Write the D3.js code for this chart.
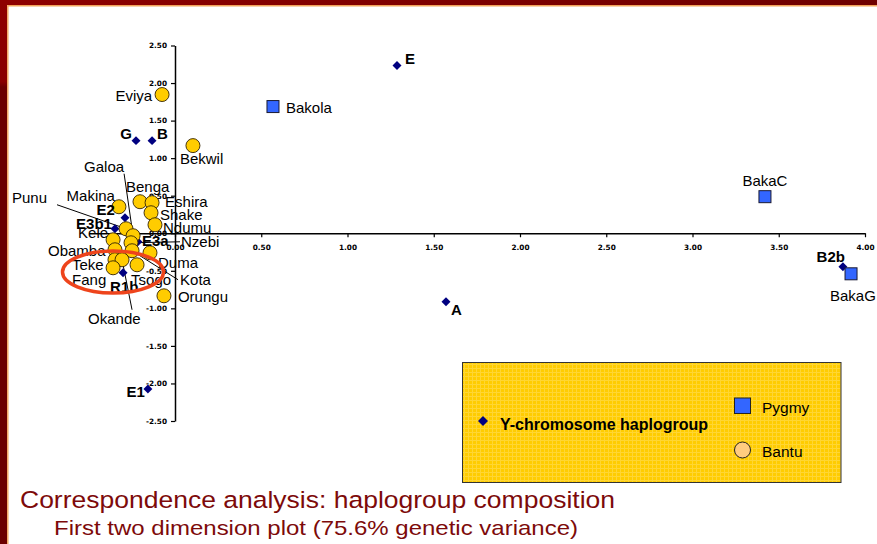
<!DOCTYPE html>
<html>
<head>
<meta charset="utf-8">
<script src="https://cdn.jsdelivr.net/npm/d3@7"></script>
<style>
  body { margin: 0; background: #fff; }
  svg { display: block; }
</style>
</head>
<body>
<div id="vis"></div>
<script>
// Y-chromosome haplogroups (column points)
var haploNames = ["E", "G", "B", "A", "E1", "B2b", "E2", "E3b1", "E3a", "R1b"];
var haploX = [1.287, -0.226, -0.133, 1.571, -0.157, 3.872, -0.290, -0.348, -0.215, -0.301];
var haploY = [2.233, 1.233, 1.233, -0.913, -2.073, -0.447, 0.207, 0.060, -0.113, -0.527];

// Pygmy populations
var pygmyNames = ["Bakola", "BakaC", "BakaG"];
var pygmyX = [0.568, 3.420, 3.919];
var pygmyY = [1.687, 0.487, -0.540];

// Bantu populations
var bantuNames = ["Eviya", "Bekwil", "Orungu", "Makina", "Benga", "Eshira", "Shake", "Ndumu", "Punu",
                  "Galoa", "Kele", "Nzebi", "Obamba", "Kota", "Duma", "Teke", "Okande", "Tsogo", "Fang"];
var bantuX = [-0.075, 0.104, -0.064, -0.325, -0.203, -0.133, -0.139, -0.116, -0.284,
              -0.243, -0.359, -0.255, -0.348, -0.249, -0.145, -0.348, -0.307, -0.220, -0.359];
var bantuY = [1.847, 1.167, -0.833, 0.353, 0.420, 0.407, 0.273, 0.113, 0.060,
              -0.033, -0.087, -0.127, -0.220, -0.233, -0.260, -0.353, -0.353, -0.420, -0.460];

var xTicks = [0, 0.5, 1, 1.5, 2, 2.5, 3, 3.5, 4];
var yTicks = [-2.5, -2, -1.5, -1, -0.5, 0, 0.5, 1, 1.5, 2, 2.5];

var legendMain = "Y-chromosome haplogroup";
var legendGroups = ["Pygmy", "Bantu"];

var titleText = "Correspondence analysis: haplogroup composition";
var subtitleText = "First two dimension plot (75.6% genetic variance)";

// label placement (pixel offsets from the mark): dx, dy, anchor
var labelPos = {
  E: [8, -2, "start"], G: [-4, -2, "end"], B: [5, -2, "start"], A: [5, 13, "start"],
  E1: [-3, 8, "end"], B2b: [2, -5, "end"], E2: [-10, -3, "end"], E3b1: [-3, 0, "end"],
  E3a: [4, 4, "start"], R1b: [-13, 19, "start"],
  Bakola: [13, 6, "start"], BakaC: [0, -11, "middle"], BakaG: [-21, 27, "start"],
  Eviya: [-10, 6, "end"], Bekwil: [-13, 18, "start"], Orungu: [14, 6, "start"],
  Makina: [-4, -6, "end"], Benga: [-14, -10, "start"], Eshira: [13, 4, "start"],
  Shake: [9, 7, "start"], Ndumu: [8, 8, "start"], Punu: [-114, -26, "start"],
  Galoa: [-49, -64, "start"], Kele: [-5, -2, "end"], Nzebi: [50, 4, "start"],
  Obamba: [-67, 6, "start"], Kota: [48, 34, "start"], Duma: [8, 15, "start"],
  Teke: [-43, 10, "start"], Okande: [-34, 64, "start"], Tsogo: [-6, 20, "start"],
  Fang: [-41, 17, "start"]
};
// leader lines: start offset of the line, ending at the mark
var leaders = {
  Galoa: [-9, -62], Punu: [-69, -24], Nzebi: [49, -1], Okande: [10, 50], Kota: [46, 29]
};

var W = 877, H = 544;
var svg = d3.select("#vis").append("svg").attr("width", W).attr("height", H);

// slide frame
var defs = svg.append("defs");
var gTop = defs.append("linearGradient").attr("id", "topbar");
gTop.append("stop").attr("offset", "0%").attr("stop-color", "#8e0000");
gTop.append("stop").attr("offset", "100%").attr("stop-color", "#6f0000");
var gLeft = defs.append("linearGradient").attr("id", "leftbar")
  .attr("x1", 0).attr("y1", 0).attr("x2", 0).attr("y2", 1);
gLeft.append("stop").attr("offset", "0%").attr("stop-color", "#8e0000");
gLeft.append("stop").attr("offset", "15%").attr("stop-color", "#8a0000");
gLeft.append("stop").attr("offset", "16%").attr("stop-color", "#6b0000");
gLeft.append("stop").attr("offset", "100%").attr("stop-color", "#6b0000");
var pat = defs.append("pattern").attr("id", "grid").attr("patternUnits", "userSpaceOnUse")
  .attr("width", 4).attr("height", 4);
pat.append("rect").attr("width", 4).attr("height", 4).attr("fill", "#ffcc00");
pat.append("path").attr("d", "M0,0.5H4M0.5,0V4").attr("stroke", "#ffd633").attr("stroke-width", 1);

svg.append("rect").attr("x", 0).attr("y", 0).attr("width", W).attr("height", 5).attr("fill", "url(#topbar)");
svg.append("rect").attr("x", 0).attr("y", 0).attr("width", 7).attr("height", H).attr("fill", "url(#leftbar)");
svg.append("path").attr("d", "M7.8," + H + "V5.8H" + W)
  .attr("fill", "none").attr("stroke", "#f2a35a").attr("stroke-width", 1.4);

// scales
var x = d3.scaleLinear().domain([-0.5, 4]).range([88.75, 865]);
var y = d3.scaleLinear().domain([-2.5, 2.5]).range([421, 45.5]);
var fmt = function(d) { return d.toFixed(2); };

var xAxis = svg.append("g").attr("transform", "translate(0," + y(0) + ")")
  .call(d3.axisBottom(x).tickValues(xTicks).tickFormat(fmt).tickSize(4).tickSizeOuter(0));
var yAxis = svg.append("g").attr("transform", "translate(" + x(0) + ",0)")
  .call(d3.axisLeft(y).tickValues(yTicks).tickFormat(fmt).tickSize(4).tickSizeOuter(0));
[xAxis, yAxis].forEach(function(g) {
  g.select(".domain").attr("stroke", "#000").attr("stroke-width", 1.5);
  g.selectAll(".tick line").attr("stroke", "#000").attr("stroke-width", 1.2);
  g.selectAll(".tick text").attr("fill", "#000")
    .style("font-family", "'DejaVu Sans', Verdana, sans-serif")
    .style("font-weight", "bold").style("font-size", "7.3px");
});
xAxis.selectAll(".tick text").attr("y", 12);
yAxis.selectAll(".tick text").attr("x", -8);

// marks
function rows(names, xs, ys) {
  return names.map(function(n, i) { return { name: n, x: xs[i], y: ys[i] }; });
}
var haplo = rows(haploNames, haploX, haploY);
var pygmy = rows(pygmyNames, pygmyX, pygmyY);
var bantu = rows(bantuNames, bantuX, bantuY);

// leader lines
var all = haplo.concat(pygmy).concat(bantu);
svg.append("g").selectAll("line")
  .data(all.filter(function(d) { return leaders[d.name]; }))
  .join("line")
  .attr("x1", function(d) { return x(d.x) + leaders[d.name][0]; })
  .attr("y1", function(d) { return y(d.y) + leaders[d.name][1]; })
  .attr("x2", function(d) { return x(d.x); })
  .attr("y2", function(d) { return y(d.y); })
  .attr("stroke", "#000").attr("stroke-width", 1);

var diamond = d3.symbol().type(d3.symbolSquare).size(40);
svg.append("g").selectAll("path").data(haplo).join("path")
  .attr("d", diamond)
  .attr("transform", function(d) { return "translate(" + x(d.x) + "," + y(d.y) + ") rotate(45)"; })
  .attr("fill", "#000080");

svg.append("g").selectAll("rect").data(pygmy).join("rect")
  .attr("x", function(d) { return x(d.x) - 6; })
  .attr("y", function(d) { return y(d.y) - 6; })
  .attr("width", 12).attr("height", 12)
  .attr("fill", "#3366ff").attr("stroke", "#1a1a33").attr("stroke-width", 1);

svg.append("g").selectAll("circle").data(bantu).join("circle")
  .attr("cx", function(d) { return x(d.x); })
  .attr("cy", function(d) { return y(d.y); })
  .attr("r", 7)
  .attr("fill", "#ffcc00").attr("stroke", "#332200").attr("stroke-width", 0.9);

// labels
function addLabels(data, bold) {
  svg.append("g").selectAll("text").data(data).join("text")
    .attr("x", function(d) { return x(d.x) + labelPos[d.name][0]; })
    .attr("y", function(d) { return y(d.y) + labelPos[d.name][1]; })
    .attr("text-anchor", function(d) { return labelPos[d.name][2]; })
    .style("font-family", "'Liberation Sans', Arial, sans-serif")
    .style("font-size", "15px")
    .style("font-weight", bold ? "bold" : "normal")
    .attr("fill", "#000")
    .text(function(d) { return d.name; });
}
addLabels(pygmy, false);
addLabels(bantu, false);
addLabels(haplo, true);

// highlight ellipse
svg.append("ellipse").attr("cx", 113).attr("cy", 272).attr("rx", 50.5).attr("ry", 21)
  .attr("fill", "none").attr("stroke", "#ee441c").attr("stroke-width", 3.5);

// legend
var lg = svg.append("g");
lg.append("rect").attr("x", 462.5).attr("y", 362.5).attr("width", 378.5).attr("height", 120)
  .attr("fill", "url(#grid)").attr("stroke", "#333").attr("stroke-width", 1);
lg.append("path").attr("d", d3.symbol().type(d3.symbolSquare).size(50))
  .attr("transform", "translate(483,421) rotate(45)").attr("fill", "#000080");
lg.append("text").attr("x", 500).attr("y", 430).text(legendMain)
  .style("font-family", "'Liberation Sans', Arial, sans-serif")
  .style("font-size", "16px").style("font-weight", "bold");
lg.append("rect").attr("x", 734.5).attr("y", 398).attr("width", 16).attr("height", 15.5)
  .attr("fill", "#3366ff").attr("stroke", "#222").attr("stroke-width", 1);
lg.append("circle").attr("cx", 742.5).attr("cy", 450).attr("r", 8)
  .attr("fill", "#ffcc80").attr("stroke", "#222").attr("stroke-width", 1);
lg.selectAll("text.grp").data(legendGroups).join("text").attr("class", "grp")
  .attr("x", 762).attr("y", function(d, i) { return 413 + i * 43.5; })
  .text(function(d) { return d; })
  .style("font-family", "'Liberation Sans', Arial, sans-serif").style("font-size", "15.5px");

// slide titles
svg.append("text").attr("x", 20).attr("y", 508).text(titleText)
  .attr("fill", "#7d0a0a").attr("textLength", 595).attr("lengthAdjust", "spacingAndGlyphs")
  .style("font-family", "'Liberation Sans', Arial, sans-serif").style("font-size", "24.5px");
svg.append("text").attr("x", 54).attr("y", 535).text(subtitleText)
  .attr("fill", "#7d0a0a").attr("textLength", 524).attr("lengthAdjust", "spacingAndGlyphs")
  .style("font-family", "'Liberation Sans', Arial, sans-serif").style("font-size", "21px");
</script>
</body>
</html>
